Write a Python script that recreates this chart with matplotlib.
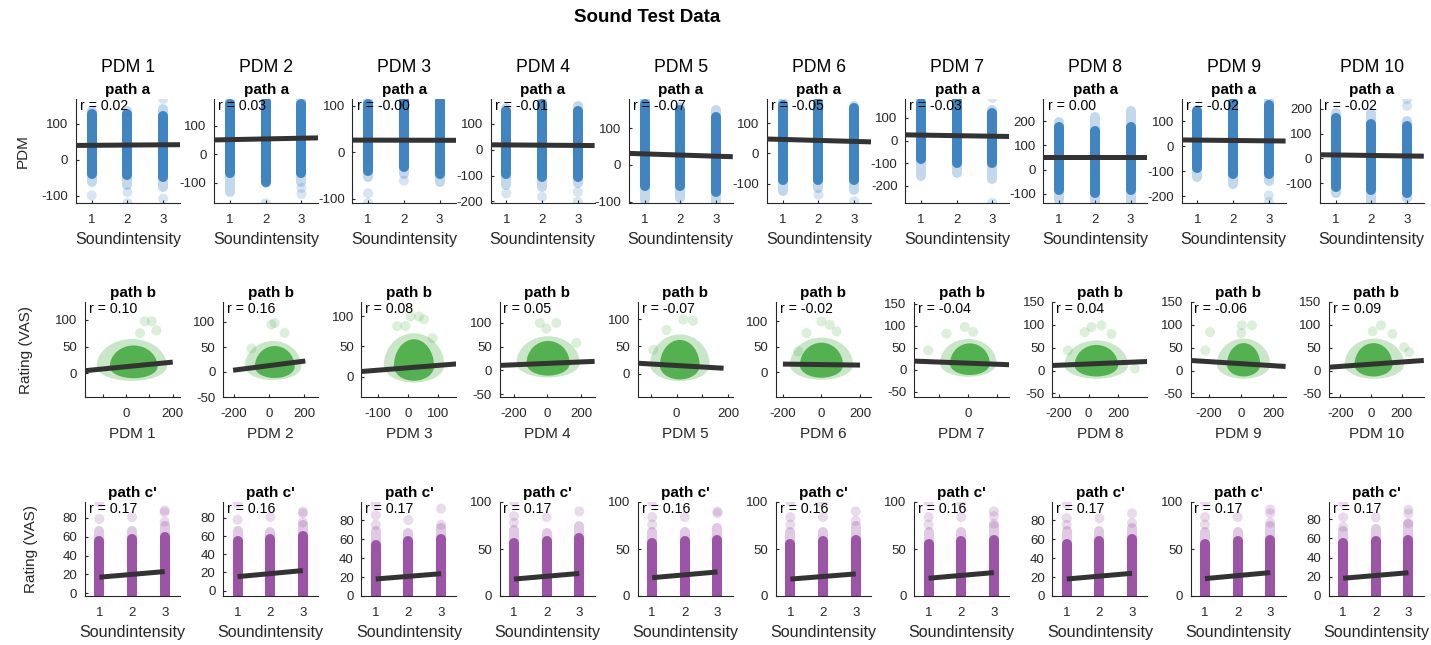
import numpy as np
import matplotlib.pyplot as plt
from matplotlib.patches import Ellipse, Rectangle
from matplotlib.ticker import MultipleLocator, FixedLocator

plt.rcParams['font.family'] = ['Liberation Sans', 'DejaVu Sans']
plt.rcParams['axes.unicode_minus'] = False

BLUE = '#3a80c0'
GREEN = '#4daf4a'
PURPLE = '#984ea3'
LINE = '#333333'
AX = '#262626'

pdm_names = [f"PDM {i}" for i in range(1, 11)]
levels = [1, 2, 3]
xlim_levels = (0.56, 3.47)

# ---- path a: Soundintensity -> PDM
a_r = ["0.02", "0.03", "-0.00", "-0.01", "-0.07", "-0.05", "-0.03", "0.00", "-0.02", "-0.02"]
a_ylim = [(-120, 169), (-171, 195), (-109, 115), (-206, 196), (-104, 179),
          (-163, 179), (-277, 184), (-138, 292), (-226, 189), (-180, 240)]
a_fit = [(40.3, 41.7), (52, 57), (26.4, 26.1), (18.5, 16.5), (29.6, 23.4),
         (46, 39.5), (24, 19), (52, 52), (25, 22), (14, 10)]   # fitted value at x=1 and x=3
a_core_lo = [[-39, -43, -48], [-67, -96, -67], [-39, -32, -46], [-92, -105, -105], [-59, -59, -73],
             [-87, -87, -87], [-84, -99, -99], [-85, -98, -85], [-85, -111, -111], [-115, -128, -141]]
a_core_hi = [[128, 128, 123], [177, 185, 177], [104, 110, 110], [150, 178, 150], [166, 150, 130],
             [160, 165, 150], [167, 175, 122], [175, 161, 175], [140, 175, 166], [165, 139, 132]]
a_fade_lo = [[-62, -71, -76], [-131, -100, -96], [-54, -46, -64], [-137, -143, -130], [-95, -90, -103],
             [-125, -114, -120], [-158, -143, -172], [-126, -138, -133], [-124, -150, -137], [-141, -175, -161]]
a_fade_hi = [[137, 137, 142], [194, 194, 194], [114, 114, 114], [163, 189, 170], [179, 157, 148],
             [168, 175, 157], [181, 181, 137], [195, 216, 243], [146, 189, 189], [185, 185, 152]]
a_out = [[(1, -99), (2, -90), (2, -120), (3, 169), (3, -108)],
         [(2, -172), (3, -118), (3, -140)],
         [(1, -88), (1, -109), (2, -61)],
         [(1, -169), (2, -182), (3, -163), (3, -201)],
         [],
         [(2, -136), (3, -157)],
         [(3, 189), (3, -276)],
         [],
         [(3, -196), (3, -222)],
         [(3, 239), (3, 212)]]

# ---- path b: PDM -> Rating
b_r = ["0.10", "0.16", "0.08", "0.05", "-0.07", "-0.02", "-0.04", "0.04", "-0.06", "0.09"]
b_xlim = [(-176, 231), (-260, 278), (-156, 163), (-283, 279), (-151, 219),
          (-236, 257), (-370, 281), (-245, 397), (-316, 277), (-276, 345)]
b_ylim = [(-44, 133), (-50, 140), (-34, 124), (-56, 144), (-42, 131),
          (-49, 138), (-62, 154), (-58, 150), (-58, 150), (-58, 150)]
b_xticks = [[0, 200], [-200, 0, 200], [-100, 0, 100], [-200, 0, 200], [0, 200],
            [-200, 0, 200], [0], [-200, 0, 200], [-200, 0, 200], [-200, 0, 200]]
b_xminor = [[-100, 100], [], [], [], [-100, 100], [], [-200, 200], [], [], []]
b_line = [(-176, 5, 200, 21), (-204, 3.5, 205, 22), (-156, 8.4, 163, 21), (-283, 10.5, 279, 19),
          (-151, 19.5, 183, 10.4), (-200, 15.8, 200, 13.8), (-370, 19.6, 281, 11.4),
          (-245, 11, 397, 19.7), (-316, 22, 277, 8.8), (-276, 7.2, 345, 22)]
# dense cloud extent (x lo, x hi, y lo, y hi) and its faint fringe
b_core = [(-70, 135, -9, 52), (-81, 145, -12, 52), (-47, 88, -7, 62), (-124, 132, -11, 62),
          (-65, 90, -10, 62), (-112, 112, -11, 58), (-125, 148, -12, 60), (-95, 199, -13, 56),
          (-89, 119, -13, 60), (-108, 140, -13, 60)]
b_halo = [(-126, 175, -14, 64), (-138, 183, -16, 62), (-81, 122, -10, 72), (-183, 191, -15, 72),
          (-103, 129, -13, 72), (-164, 164, -15, 68), (-194, 194, -16, 70), (-163, 267, -18, 66),
          (-152, 181, -18, 70), (-173, 216, -18, 70)]
b_out = [[(80, 97), (110, 97), (130, 80), (60, 75)],
         [(32, 98), (13, 95), (88, 78), (-100, 47)],
         [(9, 100), (37, 100), (54, 95), (-36, 84), (-8, 84), (83, 64)],
         [(-45, 100), (53, 100), (-6, 88), (171, 58)],
         [(26, 99), (64, 97), (-39, 80), (-91, 44)],
         [(0, 100), (43, 93), (78, 80), (-78, 77), (-121, 41)],
         [(-23, 97), (-274, 44), (34, 86), (-148, 82)],
         [(86, 99), (18, 95), (-27, 84), (154, 80), (312, 4), (-140, 44)],
         [(4, 99), (67, 99), (0, 82), (-194, 84), (-225, 44)],
         [(65, 99), (140, 80), (216, 51), (249, 40), (11, 86)]]

# ---- path c': Soundintensity -> Rating
c_r = ["0.17", "0.16", "0.17", "0.17", "0.16", "0.16", "0.16", "0.17", "0.17", "0.17"]
c_ylim = [(-3, 97), (-6, 97.5), (0, 99), (0, 100), (0, 100),
          (0, 100), (0, 100), (0, 99), (0, 100), (0, 98)]
c_ystep = [20, 20, 20, 50, 50, 50, 50, 20, 50, 20]
c_fit = [(17, 23), (15.3, 22), (17.9, 23.5), (18, 24), (19.5, 25.6),
         (18, 23.5), (18.9, 24.9), (17.9, 23.9), (18.5, 24.9), (18.5, 24.3)]
c_lo = [-2, -5, 0, 0, 0, 0, 0, 0, 0, 0]
c_core_hi = [[55, 58, 60], [55, 57, 60], [54, 58, 60], [56, 58, 62], [56, 58, 60],
             [55, 58, 60], [55, 58, 60], [55, 58, 60], [55, 58, 60], [55, 57, 58]]
c_fade_hi = [[66, 66, 72], [66, 65, 72], [68, 66, 72], [70, 67, 74], [68, 68, 72],
             [68, 68, 74], [68, 68, 74], [68, 68, 72], [68, 68, 74], [68, 70, 75]]
c_out = [[(1, 79), (1, 97), (2, 81), (3, 76), (3, 86), (3, 88)],
         [(1, 78), (1, 96), (2, 81), (3, 75), (3, 85), (3, 87)],
         [(1, 75), (1, 85), (1, 97), (2, 80), (3, 75), (3, 92)],
         [(1, 78), (1, 85), (1, 100), (2, 84), (3, 90)],
         [(1, 76), (1, 84), (1, 100), (2, 84), (3, 88), (3, 90)],
         [(1, 76), (1, 84), (1, 100), (2, 84), (2, 100), (3, 80), (3, 90)],
         [(1, 76), (1, 84), (1, 100), (2, 84), (2, 100), (3, 77), (3, 85), (3, 90)],
         [(1, 75), (1, 82), (1, 97), (2, 82), (3, 77), (3, 87)],
         [(1, 76), (1, 84), (1, 100), (2, 84), (3, 78), (3, 88), (3, 92)],
         [(1, 72), (1, 82), (1, 97), (2, 82), (3, 76), (3, 86), (3, 90)]]

W, H = 1431, 645
fig = plt.figure(figsize=(W / 100, H / 100), dpi=100)


def add_ax(left, top, w, h):
    return fig.add_axes([left / W, 1 - (top + h) / H, w / W, h / H])


def style(ax):
    for s in ['top', 'right']:
        ax.spines[s].set_visible(False)
    for s in ['left', 'bottom']:
        ax.spines[s].set_color(AX)
        ax.spines[s].set_linewidth(0.8)
    ax.tick_params(which='both', direction='in', length=2.5, width=0.8, color=AX,
                   labelcolor=AX, labelsize=9.5)
    ax.tick_params(axis='x', which='both', pad=8)
    ax.tick_params(axis='y', which='both', pad=5.5)


def r_text(ax, r):
    ax.text(0.04, 1.0, f"r = {r}", transform=ax.transAxes, va='top', ha='left',
            fontsize=10.2, color='black', zorder=5)


def strips(ax, color, lo_f, lo_c, hi_c, hi_f, out):
    ax.vlines(levels, lo_f, hi_f, colors=color, lw=7.2, alpha=0.3, capstyle='round')
    ax.vlines(levels, lo_c, hi_c, colors=color, lw=7.2, alpha=0.95, capstyle='round')
    if out:
        ox, oy = zip(*out)
        ax.scatter(ox, oy, s=52, color=color, alpha=0.2, edgecolors='none')


def dome(ax, ext, alpha):
    # cloud outline: tall half-ellipse on top, squat half-ellipse underneath
    x0, x1, y0, y1 = ext
    ym = y0 + 0.35 * (y1 - y0)
    cx, w = (x0 + x1) / 2, x1 - x0
    for h, (c0, c1) in [(2 * (y1 - ym), (ym, y1 + 500)), (2 * (ym - y0), (y0 - 500, ym))]:
        e = Ellipse((cx, ym), w, h, facecolor=GREEN, edgecolor='none', alpha=alpha)
        ax.add_patch(e)
        e.set_clip_path(Rectangle((x0 - 500, c0), w + 1000, c1 - c0, transform=ax.transData))


def fit_line(ax, y1, y3):
    xs = np.array(xlim_levels)
    ax.plot(xs, y1 + (y3 - y1) / 2 * (xs - 1), color=LINE, lw=3.6, zorder=4, solid_capstyle='butt')


step = 138.2
for i in range(10):
    # row 1: path a
    ax = add_ax(76 + step * i, 99, 104, 104)
    style(ax)
    strips(ax, BLUE, a_fade_lo[i], a_core_lo[i], a_core_hi[i], a_fade_hi[i], a_out[i])
    fit_line(ax, *a_fit[i])
    ax.set_xlim(*xlim_levels)
    ax.set_ylim(*a_ylim[i])
    ax.set_xticks(levels)
    ax.yaxis.set_major_locator(MultipleLocator(100))
    ax.set_title("path a", fontsize=11, fontweight='bold', pad=3.6)
    ax.annotate(pdm_names[i], xy=(0.5, 1), xycoords='axes fraction', xytext=(0, 19.5),
                textcoords='offset points', ha='center', va='baseline', fontsize=12.7)
    r_text(ax, a_r[i])
    ax.set_xlabel("Soundintensity", fontsize=11.6, color=AX)
    ax.xaxis.set_label_coords(0.5, -0.28)
    if i == 0:
        ax.set_ylabel("PDM", fontsize=11, color=AX)
        ax.yaxis.set_label_coords(-0.44, 0.5)

    # row 2: path b
    ax = add_ax(85 + step * i, 302, 95, 95)
    style(ax)
    dome(ax, b_halo[i], 0.3)
    dome(ax, b_core[i], 0.95)
    ox, oy = zip(*b_out[i])
    ax.scatter(ox, oy, s=52, color=GREEN, alpha=0.2, edgecolors='none')
    x0, y0, x1, y1 = b_line[i]
    ax.plot([x0, x1], [y0, y1], color=LINE, lw=3.6, zorder=4, solid_capstyle='butt')
    ax.set_xlim(*b_xlim[i])
    ax.set_ylim(*b_ylim[i])
    ax.xaxis.set_major_locator(FixedLocator(b_xticks[i]))
    ax.xaxis.set_minor_locator(FixedLocator(b_xminor[i]))
    ax.yaxis.set_major_locator(MultipleLocator(50))
    ax.set_title("path b", fontsize=11, fontweight='bold', pad=3.3)
    r_text(ax, b_r[i])
    ax.set_xlabel(pdm_names[i], fontsize=11, color=AX)
    ax.xaxis.set_label_coords(0.5, -0.316)
    if i == 0:
        ax.set_ylabel("Rating (VAS)", fontsize=11, color=AX)
        ax.yaxis.set_label_coords(-0.547, 0.5)

    # row 3: path c'
    ax = add_ax(85 + step * i, 502, 95, 94)
    style(ax)
    lo = [c_lo[i]] * 3
    strips(ax, PURPLE, lo, lo, c_core_hi[i], c_fade_hi[i], c_out[i])
    ax.plot(levels[::2], c_fit[i], color=LINE, lw=3.6, zorder=4, solid_capstyle='butt')
    ax.set_xlim(*xlim_levels)
    ax.set_ylim(*c_ylim[i])
    ax.set_xticks(levels)
    ax.yaxis.set_major_locator(MultipleLocator(c_ystep[i]))
    ax.set_title("path c'", fontsize=11, fontweight='bold', pad=3.6)
    r_text(ax, c_r[i])
    ax.set_xlabel("Soundintensity", fontsize=11.6, color=AX)
    ax.xaxis.set_label_coords(0.5, -0.31)
    if i == 0:
        ax.set_ylabel("Rating (VAS)", fontsize=11, color=AX)
        ax.yaxis.set_label_coords(-0.49, 0.5)

fig.text(646.7 / W, 1 - 17 / H, "Sound Test Data", ha='center', va='center',
         fontsize=13.5, fontweight='bold')

fig.savefig("out.png", dpi=100)
